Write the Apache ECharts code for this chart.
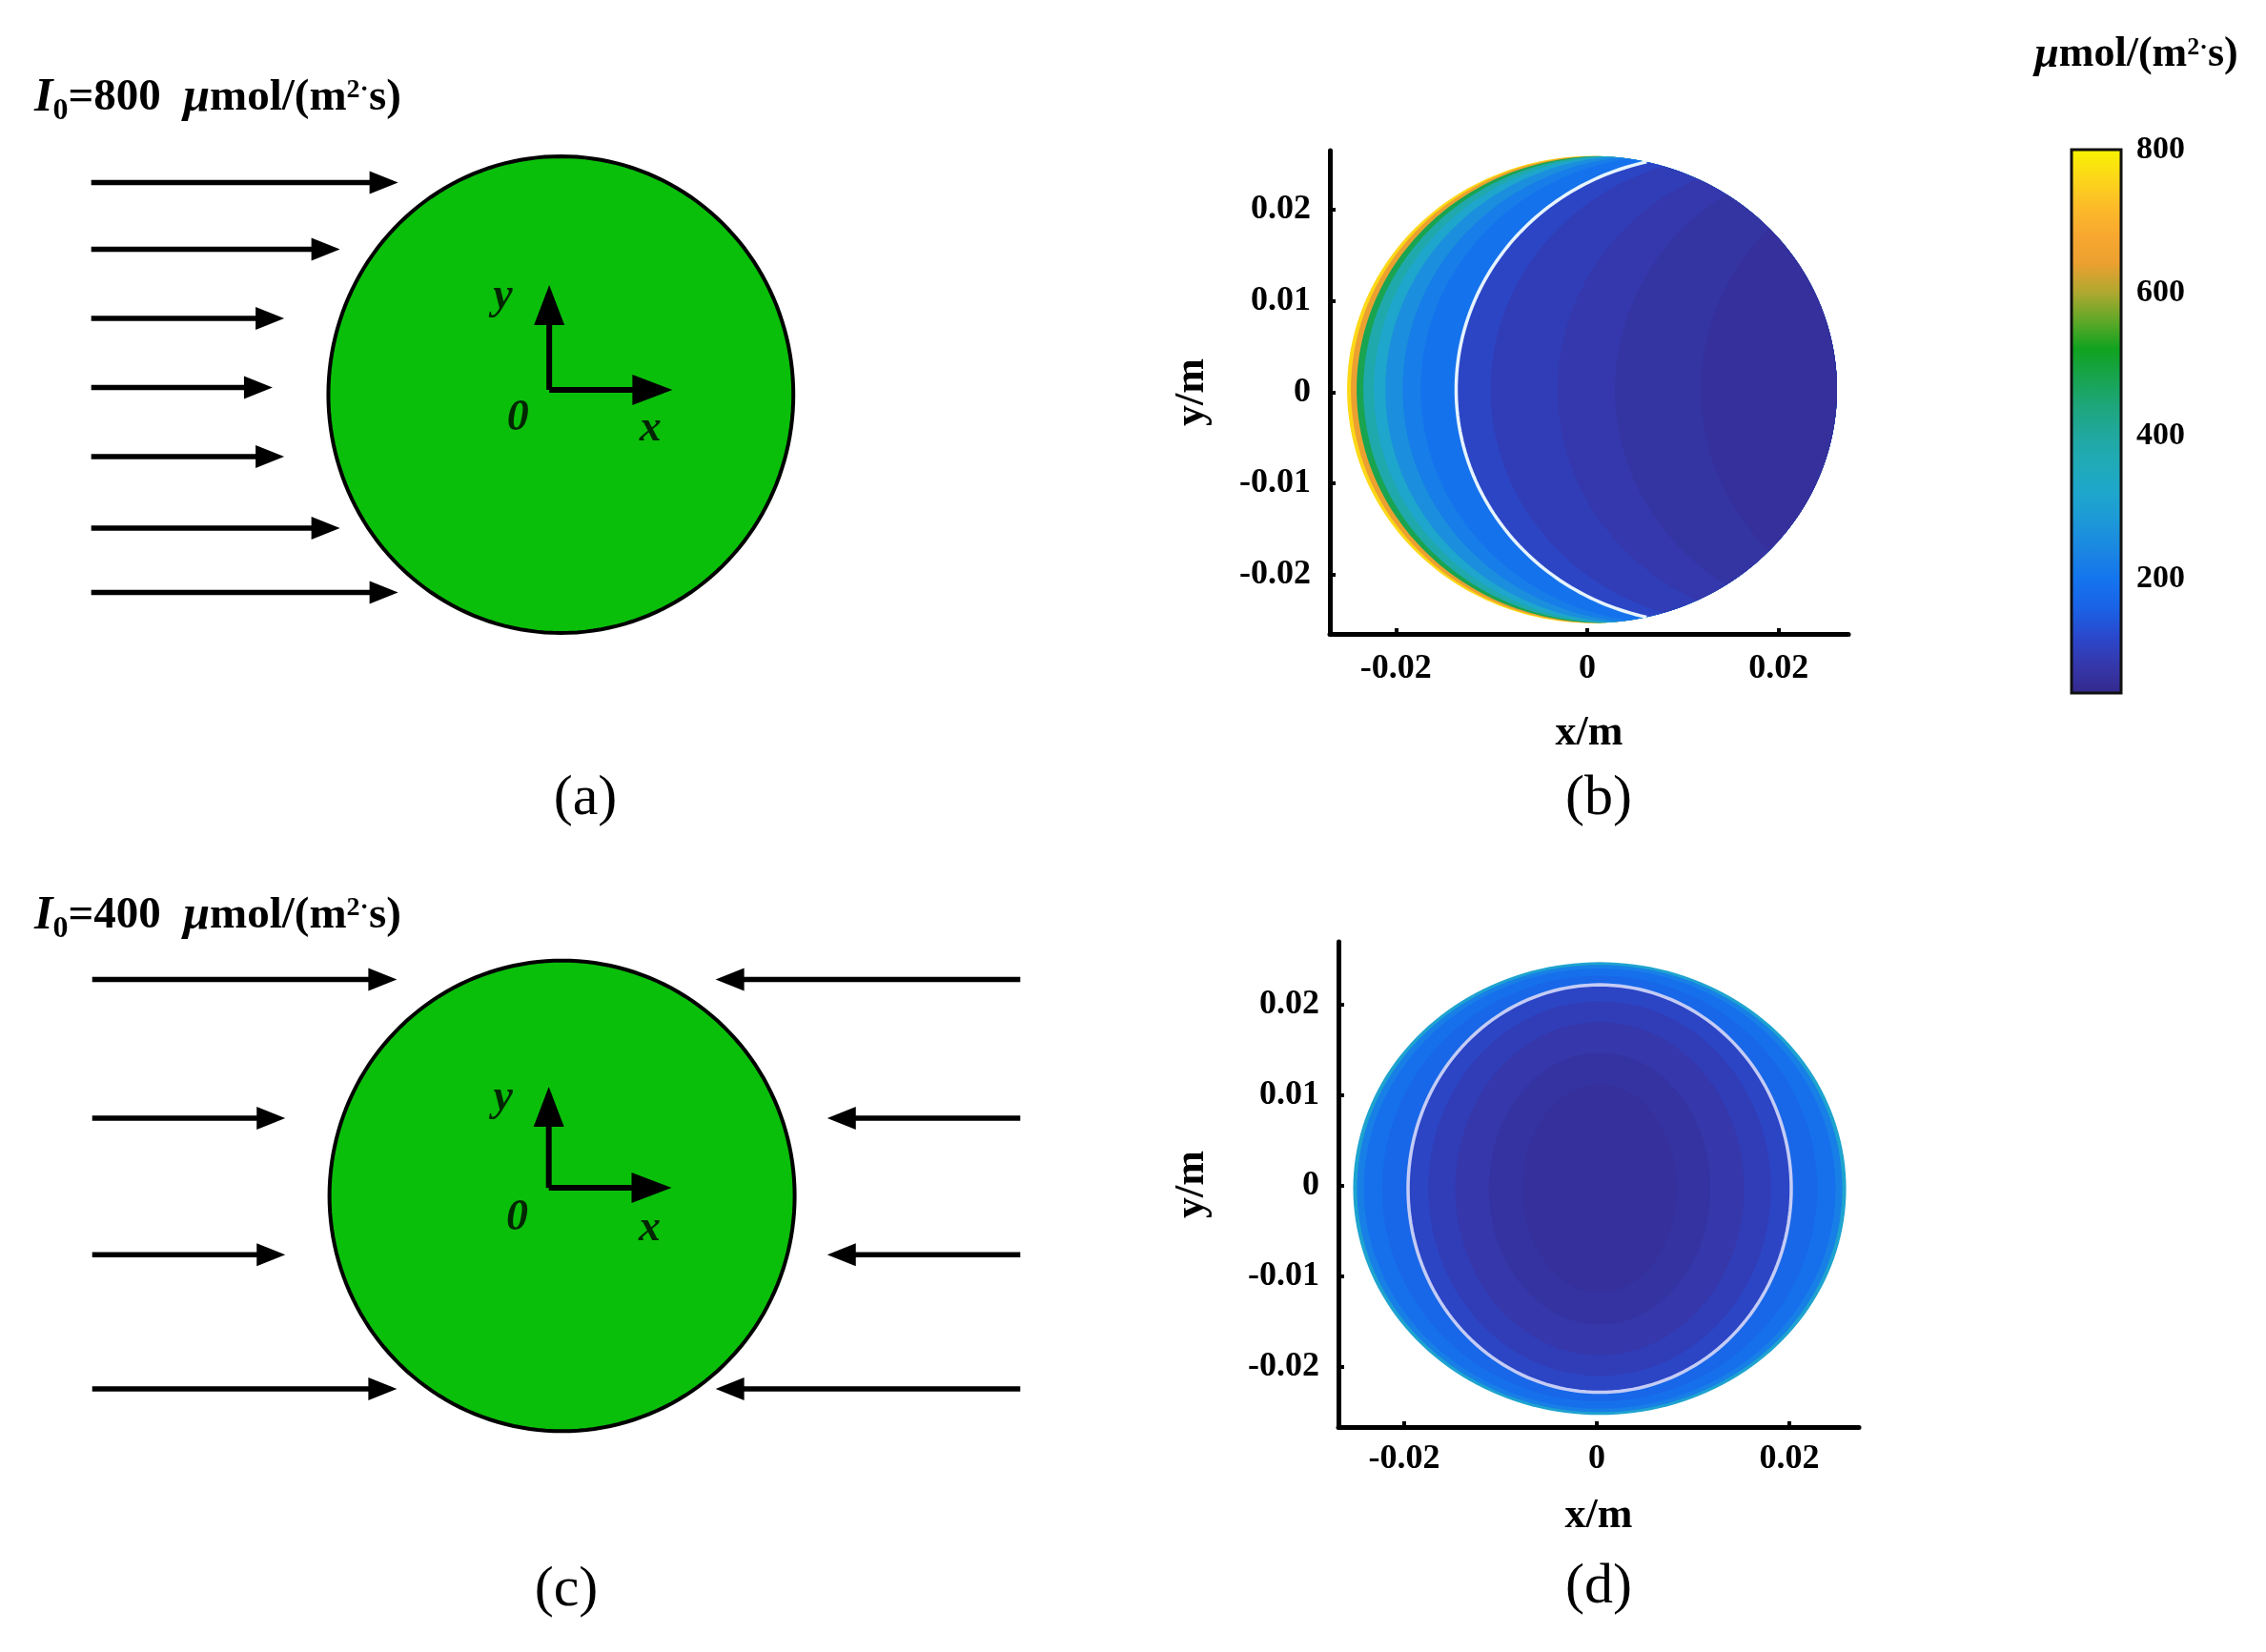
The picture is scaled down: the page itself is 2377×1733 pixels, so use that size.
<!DOCTYPE html>
<html>
<head>
<meta charset="utf-8">
<title>Light intensity distribution</title>
<script src="https://cdn.jsdelivr.net/npm/echarts@6/dist/echarts.min.js"></script>
<style>
  html, body { margin: 0; padding: 0; background: #fff; }
  #chart { width: 2377px; height: 1733px; }
</style>
</head>
<body>
<div id="chart"></div>
<script>
// ---------- data ----------
// schematics (a)/(c): units of particle radius, origin at particle centre
const rowsA = [0.89, 0.61, 0.32, 0.03, -0.26, -0.56, -0.83]
const tipsA = [-0.70, -0.95, -1.19, -1.24, -1.19, -0.95, -0.70]
const rowsC = [0.92, 0.33, -0.25, -0.82]
const tipsLeftC = [-0.71, -1.19, -1.19, -0.71]
const tipsRightC = [0.66, 1.14, 1.14, 0.66]
const startLeft = -2.02
const startRight = 1.97
const originA = [-0.05, 0.02]
const axisTipsA = [0.48, 0.46]      // x tip, y tip
const originC = [-0.057, 0.034]
const axisTipsC = [0.471, 0.464]
const labelNames = ['y', '0', 'x']
const labelPosA = [[-0.25, 0.41], [-0.185, -0.10], [0.385, -0.145]]
const labelPosC = [[-0.254, 0.415], [-0.193, -0.095], [0.377, -0.14]]

// (b): one-side light, bands by depth from the lit edge (m) -> intensity
const centreB = [0.0005, 0.0003]
const radiusB = 0.0256
const depthB = [0, 0.0004, 0.001, 0.0017, 0.0028, 0.004, 0.0058, 0.0077, 0.0114, 0.015, 0.022, 0.028, 0.037]
const lightB = [760, 640, 480, 380, 320, 260, 220, 195, 112, 94, 82, 70, 60]
const contourDepthB = 0.0114

// (d): two-side light, nested rings (rx, ry in m) -> intensity
const centreD = [0.0003, -0.0003]
const ringRxD = [0.0256, 0.0252, 0.0245, 0.0226, 0.0199, 0.0178, 0.0150, 0.0115, 0.0080]
const ringRyD = [0.0250, 0.0247, 0.0243, 0.0235, 0.0225, 0.0207, 0.0184, 0.0150, 0.0115]
const lightD = [310, 225, 190, 172, 112, 95, 80, 68, 60]
const contourD = [0.0199, 0.0225]

// axes and colour bar
const xTicks = [-0.02, 0, 0.02]
const yTicks = [-0.02, -0.01, 0, 0.01, 0.02]
const cbarTicks = [200, 400, 600, 800]
const cmapValues = [40, 80, 120, 160, 200, 240, 280, 320, 360, 400, 440, 480, 520, 560, 600, 640, 680, 720, 760, 800]
const cmapColors = ['#34298c', '#3537aa', '#2a48cc', '#1a62e6', '#1474ee', '#1a86e2', '#1c98d8', '#1ea6cc', '#20aab8', '#20a8a0',
  '#1ea67c', '#18a450', '#10a220', '#60a828', '#b0a830', '#eca030', '#f8a830', '#fcbc28', '#fcd818', '#f8f400']

const serif = '"Liberation Serif", "Times New Roman", serif'
const chart = echarts.init(document.getElementById('chart'))

// arrow with a filled triangular head
function arrowRender (headLen, headW, lw) {
  return function (params, api) {
    const p0 = api.coord([api.value(0), api.value(1)])
    const p1 = api.coord([api.value(2), api.value(3)])
    const dx = p1[0] - p0[0]
    const dy = p1[1] - p0[1]
    const L = Math.hypot(dx, dy)
    const ux = dx / L
    const uy = dy / L
    const bx = p1[0] - ux * headLen
    const by = p1[1] - uy * headLen
    return {
      type: 'group',
      children: [
        { type: 'line', shape: { x1: p0[0], y1: p0[1], x2: bx + ux * 2, y2: by + uy * 2 }, style: { stroke: '#000', lineWidth: lw } },
        {
          type: 'polygon',
          shape: { points: [p1, [bx - uy * headW / 2, by + ux * headW / 2], [bx + uy * headW / 2, by - ux * headW / 2]] },
          style: { fill: '#000' }
        }
      ]
    }
  }
}

// particle in the schematics
function particleRender (params, api) {
  const pts = []
  for (let i = 0; i < 180; i++) {
    const t = i / 180 * Math.PI * 2
    pts.push(api.coord([Math.cos(t), Math.sin(t)]))
  }
  return { type: 'polygon', shape: { points: pts }, style: { fill: '#0abf0a', stroke: '#000', lineWidth: 4 } }
}

// part of the circle lying deeper than d from the lit (left) edge
function litEdge (api, d, side) {
  const R = radiusB
  const h = Math.sqrt(Math.max(R * R - d * d / 4, 0))
  const tMax = Math.asin(Math.min(h / R, 1))
  const left = []
  const right = []
  const n = 120
  for (let i = 0; i <= n; i++) {
    const t = -tMax + 2 * tMax * i / n
    const y = R * Math.sin(t)
    const w = R * Math.cos(t)
    left.push(api.coord([centreB[0] - w + d, centreB[1] + y]))
    right.push(api.coord([centreB[0] + w, centreB[1] + y]))
  }
  return side === 'left' ? left : left.concat(right.reverse())
}

function crescentRender (params, api) {
  return { type: 'polygon', shape: { points: litEdge(api, api.value(0), 'both') }, style: { fill: api.visual('color') } }
}

function contourBRender (params, api) {
  return { type: 'polyline', shape: { points: litEdge(api, api.value(0), 'left') }, style: { stroke: '#e6f4ff', lineWidth: 3.5, fill: null } }
}

function ellipsePts (api, rx, ry) {
  const pts = []
  for (let i = 0; i < 180; i++) {
    const t = i / 180 * Math.PI * 2
    pts.push(api.coord([centreD[0] + rx * Math.cos(t), centreD[1] + ry * Math.sin(t)]))
  }
  return pts
}

function ringRender (params, api) {
  return { type: 'polygon', shape: { points: ellipsePts(api, api.value(0), api.value(1)) }, style: { fill: api.visual('color') } }
}

function contourDRender (params, api) {
  return { type: 'polygon', shape: { points: ellipsePts(api, api.value(0), api.value(1)) }, style: { stroke: '#c4ccf6', lineWidth: 3.5, fill: null } }
}

function colorbarRender (params, api) {
  const p0 = api.coord([0, api.value(1)])
  const p1 = api.coord([1, api.value(0)])
  const span = cmapValues[cmapValues.length - 1] - cmapValues[0]
  const stops = cmapValues.map((v, i) => ({ offset: (v - cmapValues[0]) / span, color: cmapColors[i] }))
  return {
    type: 'rect',
    shape: { x: p0[0], y: p0[1], width: p1[0] - p0[0], height: p1[1] - p0[1] },
    style: { fill: new echarts.graphic.LinearGradient(0, 1, 0, 0, stops), stroke: '#111', lineWidth: 3 }
  }
}

const hidden = { show: false }
const tickFont = { fontFamily: serif, fontWeight: 'bold', fontSize: 36, color: '#000' }
const nameFont = { fontFamily: serif, fontWeight: 'bold', fontSize: 44, color: '#000' }

function heatX (gridIndex, min, max, margin, gap) {
  return {
    type: 'value', gridIndex, min, max,
    name: 'x/m', nameLocation: 'middle', nameGap: gap, nameTextStyle: nameFont,
    axisLine: { show: true, onZero: false, lineStyle: { color: '#000', width: 5 } },
    axisTick: { show: true, inside: true, length: 6, customValues: xTicks, lineStyle: { color: '#000', width: 4 } },
    axisLabel: Object.assign({ customValues: xTicks, margin }, tickFont),
    splitLine: hidden
  }
}

function heatY (gridIndex, min, max, gap) {
  return {
    type: 'value', gridIndex, min, max,
    name: 'y/m', nameLocation: 'middle', nameRotate: 90, nameGap: gap, nameTextStyle: nameFont,
    axisLine: { show: true, onZero: false, lineStyle: { color: '#000', width: 5 } },
    axisTick: { show: true, inside: true, length: 6, customValues: yTicks, lineStyle: { color: '#000', width: 4 } },
    axisLabel: Object.assign({ customValues: yTicks, margin: 20 }, tickFont),
    splitLine: hidden
  }
}

function plainAxis (gridIndex, min, max) {
  return { type: 'value', gridIndex, min, max, show: false }
}

function lightArrows (rows, start, tips) {
  return rows.map((y, i) => [start, y, tips[i], y])
}

function axisArrows (o, tips) {
  return [[o[0], o[1], o[0], tips[1]], [o[0], o[1], tips[0], o[1]]]
}

function schematicLabels (pos) {
  return pos.map((p, i) => ({ value: p, name: labelNames[i] }))
}

const labelSeries = (idx, pos) => ({
  type: 'scatter', xAxisIndex: idx, yAxisIndex: idx, symbolSize: 1, silent: true,
  itemStyle: { color: 'rgba(0,0,0,0)' },
  label: { show: true, position: 'inside', formatter: '{b}', fontFamily: serif, fontStyle: 'italic', fontWeight: 'bold', fontSize: 46, color: '#000' },
  data: schematicLabels(pos)
})

const titleRich = {
  i: { fontFamily: serif, fontStyle: 'italic', fontWeight: 'bold', fontSize: 50, color: '#000' },
  s: { fontFamily: serif, fontWeight: 'bold', fontSize: 32, color: '#000', padding: [28, 0, 0, 0] },
  b: { fontFamily: serif, fontWeight: 'bold', fontSize: 47, color: '#000' },
  p: { fontFamily: serif, fontWeight: 'bold', fontSize: 28, color: '#000', padding: [0, 0, 16, 0] }
}

const unitRich = {
  i: { fontFamily: serif, fontStyle: 'italic', fontWeight: 'bold', fontSize: 46, color: '#000' },
  b: { fontFamily: serif, fontWeight: 'bold', fontSize: 44, color: '#000' },
  p: { fontFamily: serif, fontWeight: 'bold', fontSize: 26, color: '#000', padding: [0, 0, 16, 0] }
}

function captionText (x, y, txt) {
  return { type: 'text', x, y, style: { text: txt, fontFamily: serif, fontSize: 60, fill: '#000', textAlign: 'center', textVerticalAlign: 'middle' } }
}

chart.setOption({
  backgroundColor: '#fff',
  animation: false,
  grid: [
    { left: 3, top: 139, width: 878, height: 550 },
    { left: 1395, top: 158, width: 544, height: 507 },
    { left: 4, top: 983, width: 1098, height: 543 },
    { left: 1404, top: 988, width: 546, height: 509 },
    { left: 2173, top: 157, width: 52, height: 570 }
  ],
  xAxis: [
    plainAxis(0, -2.4, 1.2),
    heatX(1, -0.0269, 0.0273, 19, 83),
    plainAxis(2, -2.4, 2.1),
    heatX(3, -0.02683, 0.02723, 16, 72),
    plainAxis(4, 0, 1)
  ],
  yAxis: [
    plainAxis(0, -1.1, 1.1),
    heatY(1, -0.0265, 0.0265, 122),
    plainAxis(2, -1.1, 1.1),
    heatY(3, -0.02663, 0.02695, 131),
    {
      type: 'value', gridIndex: 4, min: cmapValues[0], max: cmapValues[cmapValues.length - 1], position: 'right',
      axisLine: hidden, axisTick: hidden, splitLine: hidden,
      axisLabel: Object.assign({ customValues: cbarTicks, margin: 16 }, tickFont, { fontSize: 34 })
    }
  ],
  visualMap: {
    type: 'continuous', show: false, min: cmapValues[0], max: cmapValues[cmapValues.length - 1],
    dimension: 2, seriesIndex: [7, 9], inRange: { color: cmapColors }
  },
  series: [
    // (a)
    { type: 'custom', xAxisIndex: 0, yAxisIndex: 0, renderItem: particleRender, data: [[0, 0]], silent: true },
    { type: 'custom', xAxisIndex: 0, yAxisIndex: 0, renderItem: arrowRender(30, 24, 5.5), data: lightArrows(rowsA, startLeft, tipsA), silent: true },
    { type: 'custom', xAxisIndex: 0, yAxisIndex: 0, renderItem: arrowRender(42, 32, 6), data: axisArrows(originA, axisTipsA), silent: true },
    // (c)
    { type: 'custom', xAxisIndex: 2, yAxisIndex: 2, renderItem: particleRender, data: [[0, 0]], silent: true },
    {
      type: 'custom', xAxisIndex: 2, yAxisIndex: 2, renderItem: arrowRender(30, 24, 5.5), silent: true,
      data: lightArrows(rowsC, startLeft, tipsLeftC).concat(lightArrows(rowsC, startRight, tipsRightC))
    },
    { type: 'custom', xAxisIndex: 2, yAxisIndex: 2, renderItem: arrowRender(42, 32, 6), data: axisArrows(originC, axisTipsC), silent: true },
    labelSeries(0, labelPosA),
    // (b)  index 7
    { type: 'custom', xAxisIndex: 1, yAxisIndex: 1, renderItem: crescentRender, data: depthB.map((d, i) => [d, 0, lightB[i]]), silent: true },
    { type: 'custom', xAxisIndex: 1, yAxisIndex: 1, renderItem: contourBRender, data: [[contourDepthB, 0]], silent: true },
    // (d)  index 9
    { type: 'custom', xAxisIndex: 3, yAxisIndex: 3, renderItem: ringRender, data: ringRxD.map((rx, i) => [rx, ringRyD[i], lightD[i]]), silent: true },
    { type: 'custom', xAxisIndex: 3, yAxisIndex: 3, renderItem: contourDRender, data: [contourD], silent: true },
    // colour bar
    { type: 'custom', xAxisIndex: 4, yAxisIndex: 4, renderItem: colorbarRender, data: [[cmapValues[0], cmapValues[cmapValues.length - 1]]], silent: true },
    labelSeries(2, labelPosC)
  ],
  graphic: [
    { type: 'text', x: 36, y: 103, style: { text: '{i|I}{s|0}{b|=800  }{i|μ}{b|mol/(m}{p|2·}{b|s)}', rich: titleRich, textVerticalAlign: 'middle' } },
    { type: 'text', x: 36, y: 961, style: { text: '{i|I}{s|0}{b|=400  }{i|μ}{b|mol/(m}{p|2·}{b|s)}', rich: titleRich, textVerticalAlign: 'middle' } },
    { type: 'text', x: 2241, y: 58, style: { text: '{i|μ}{b|mol/(m}{p|2·}{b|s)}', rich: unitRich, textAlign: 'center', textVerticalAlign: 'middle' } },
    captionText(614, 838, '(a)'),
    captionText(1677, 838, '(b)'),
    captionText(594, 1668, '(c)'),
    captionText(1677, 1665, '(d)')
  ]
})
</script>
</body>
</html>
